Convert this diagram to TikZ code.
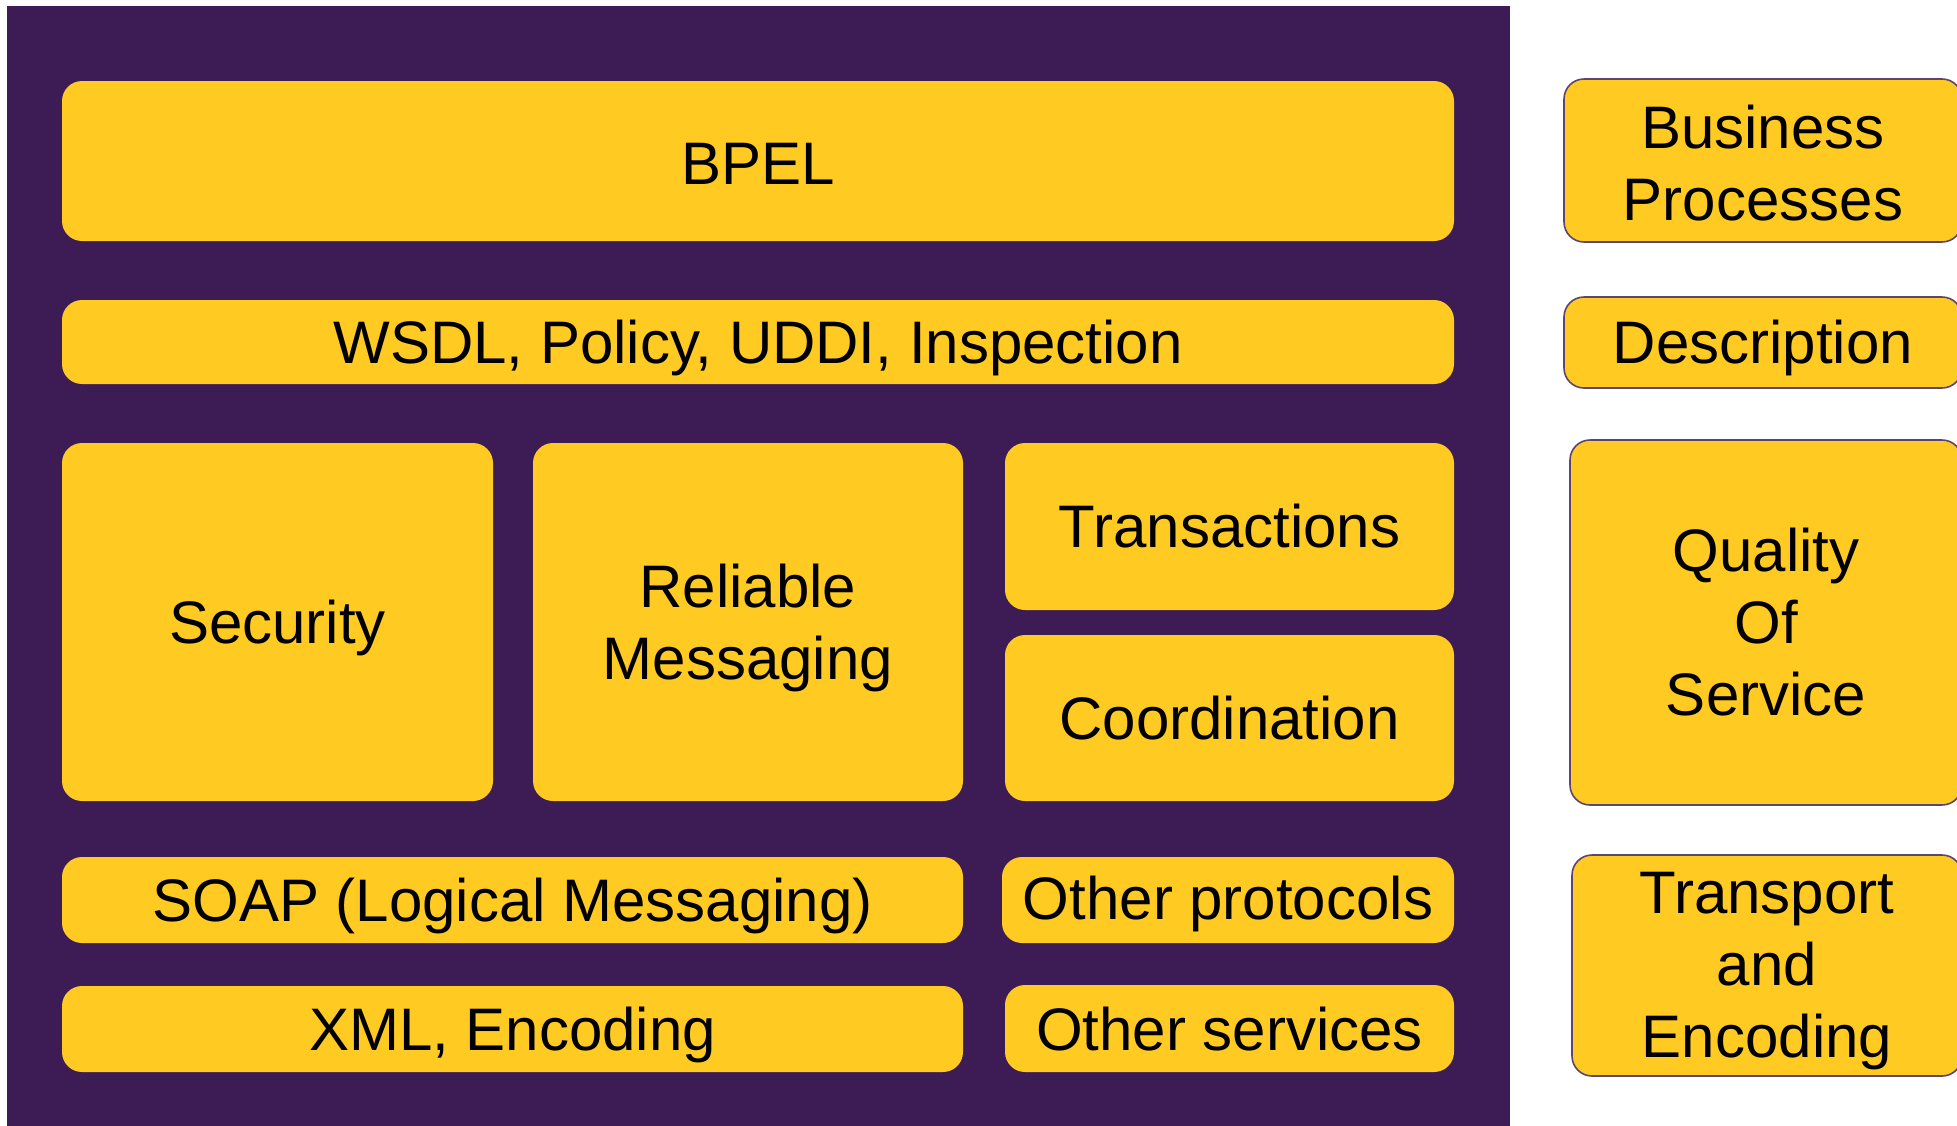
\documentclass[tikz,border=0pt]{standalone}
\usepackage{fontspec}
\setmainfont{Liberation Sans}
\definecolor{bgpurple}{HTML}{3D1C55}
\definecolor{boxyellow}{HTML}{FFCA22}
\definecolor{edgepurple}{HTML}{5E4470}
\begin{document}
\begin{tikzpicture}[x=0.5pt,y=-0.5pt,
  layer/.style={fill=boxyellow, draw=none, rounded corners=10pt, inner sep=0pt},
  side/.style={layer, draw=edgepurple, line width=0.8pt},
  txt/.style={inner sep=0pt, align=center, font=\fontsize{30pt}{36pt}\selectfont, text=black}]
\useasboundingbox (0,0) rectangle (1957,1125);
\clip (0,0) rectangle (1957,1125);
\fill[white] (0,0) rectangle (1957,1125);
\fill[bgpurple] (7,6) rectangle (1510,1130);
% stack boxes
\node[layer, minimum width=696pt, minimum height=80pt] (bpel) at (758,161) {};
\node[layer, minimum width=696pt, minimum height=42pt] (wsdl) at (758,342) {};
\node[layer, minimum width=215.5pt, minimum height=179pt] (sec) at (277.5,622) {};
\node[layer, minimum width=215pt, minimum height=179pt] (rm) at (748,622) {};
\node[layer, minimum width=224.5pt, minimum height=83.5pt] (tx) at (1229.5,526.5) {};
\node[layer, minimum width=224.5pt, minimum height=83pt] (coord) at (1229.5,718) {};
\node[layer, minimum width=450.5pt, minimum height=43pt] (soap) at (512.5,900) {};
\node[layer, minimum width=226pt, minimum height=43pt] (op) at (1228,900) {};
\node[layer, minimum width=450.5pt, minimum height=43pt] (xml) at (512.5,1029) {};
\node[layer, minimum width=224.5pt, minimum height=43.5pt] (os) at (1229.5,1028.5) {};
% side boxes
\node[side, minimum width=199pt, minimum height=81.5pt] (bp) at (1763,160.5) {};
\node[side, minimum width=199pt, minimum height=45.5pt] (desc) at (1763,342.5) {};
\node[side, minimum width=196pt, minimum height=182.5pt] (qos) at (1766,622.5) {};
\node[side, minimum width=195pt, minimum height=110.5pt] (te) at (1767,965.5) {};
% texts
\node[txt] (bpel-t) at ([yshift=-1.25pt]bpel.center) {BPEL};
\node[txt] (wsdl-t) at ([yshift=-3pt]wsdl.center) {WSDL, Policy, UDDI, Inspection};
\node[txt] (sec-t) at ([yshift=-3pt]sec.center) {Security};
\node[txt] (rm-t) at ([yshift=-3pt]rm.center) {Reliable\\Messaging};
\node[txt] (tx-t) at (tx.center) {Transactions};
\node[txt] (coord-t) at (coord.center) {Coordination};
\node[txt] (soap-t) at ([yshift=-3pt]soap.center) {SOAP (Logical Messaging)};
\node[txt] (op-t) at ([yshift=-2pt]op.center) {Other protocols};
\node[txt] (xml-t) at ([yshift=-3pt]xml.center) {XML, Encoding};
\node[txt] (os-t) at ([yshift=-0.5pt]os.center) {Other services};
\node[txt] (bp-t) at ([yshift=-1.25pt]bp.center) {Business\\Processes};
\node[txt] (desc-t) at ([yshift=-2.5pt]desc.center) {Description};
\node[txt] (qos-t) at (qos.center) {Quality\\Of\\Service};
\node[txt] (te-t) at ([yshift=-3pt]te.center) {Transport\\and\\Encoding};
\end{tikzpicture}
\end{document}
